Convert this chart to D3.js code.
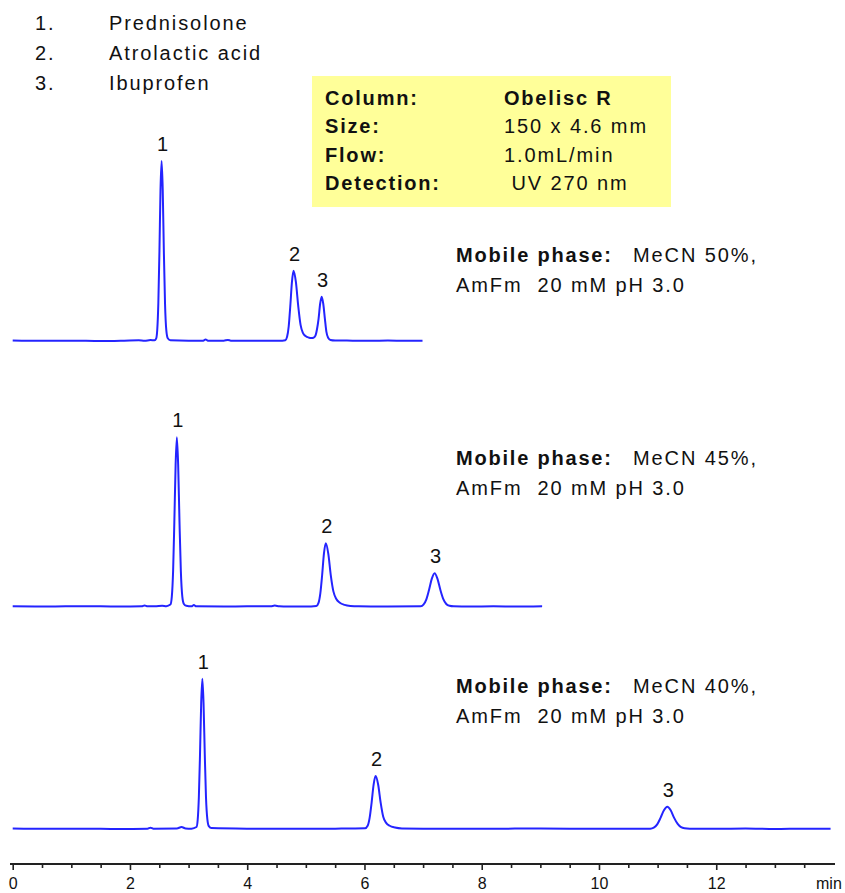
<!DOCTYPE html>
<html>
<head>
<meta charset="utf-8">
<script src="https://cdn.jsdelivr.net/npm/d3@7"></script>
<style>
  body { margin: 0; background: #fff; }
  svg { display: block; font-family: "Liberation Sans", Arial, sans-serif; }
</style>
</head>
<body>
<div id="chart"></div>
<script>
// HPLC chromatograms, Obelisc R column, three MeCN levels
// signal in relative units (baseline = 0), time in minutes

const compounds = ["Prednisolone", "Atrolactic acid", "Ibuprofen"];

const conditions = [
  { label: "Column:", value: "Obelisc R" },
  { label: "Size:", value: "150 x 4.6 mm" },
  { label: "Flow:", value: "1.0mL/min" },
  { label: "Detection:", value: " UV 270 nm" }
];

const mobilePhases = ["MeCN 50%,", "MeCN 45%,", "MeCN 40%,"];
const bufferText = "AmFm  20 mM pH 3.0";

// MeCN 50%
const trace50 = [
  [0, 0.3], [0.5, 0.1], [1.0, 0.2], [1.5, 0.0], [1.9, 0.2], [2.15, 0.4], [2.25, 0.1],
  [2.35, 0.5], [2.42, 0.4], [2.446, 1.3], [2.465, 6], [2.484, 21], [2.503, 50],
  [2.521, 84], [2.54, 100], [2.559, 84], [2.578, 50], [2.598, 21], [2.62, 6],
  [2.645, 1.5], [2.69, 0.4], [3.0, 0.2], [3.25, 0.2], [3.29, 0.9], [3.33, 0.2],
  [3.6, 0.2], [3.67, 0.6], [3.72, 0.2], [4.0, 0.1], [4.3, 0.2], [4.6, 0.2],
  [4.65, 0.4], [4.68, 2.3], [4.708, 8.2], [4.735, 19.5], [4.763, 32.8], [4.79, 39],
  [4.83, 32.8], [4.87, 19.5], [4.91, 9], [4.95, 4.5], [5.0, 2.6], [5.05, 1.9],
  [5.09, 1.6], [5.13, 1.8], [5.164, 3.0], [5.19, 6.5], [5.217, 12.3], [5.244, 20.7],
  [5.27, 24.6], [5.297, 20.7], [5.325, 12.3], [5.35, 5.2], [5.38, 1.8], [5.42, 0.6],
  [5.5, 0.3], [5.8, 0.2], [6.1, 0.1], [6.4, 0.3], [6.7, 0.1], [6.99, 0.2]
];

// MeCN 45%
const trace45 = [
  [0, 0.2], [0.6, 0.1], [1.2, 0.3], [1.8, 0.1], [2.2, 0.2], [2.25, 0.7], [2.3, 0.2],
  [2.45, 0.3], [2.55, 0.5], [2.62, 0.3], [2.69, 1.2], [2.714, 5.6], [2.736, 19.8],
  [2.757, 47], [2.779, 79], [2.8, 94.1], [2.822, 79], [2.845, 47], [2.868, 19.8],
  [2.893, 5.6], [2.92, 1.5], [2.96, 0.5], [3.05, 0.2], [3.09, 0.9], [3.13, 0.2],
  [3.6, 0.1], [4.0, 0.2], [4.4, 0.2], [4.47, 0.6], [4.55, 0.2], [5.0, 0.1],
  [5.18, 0.4], [5.216, 2.1], [5.247, 7.4], [5.278, 17.6], [5.309, 29.6], [5.34, 35.2],
  [5.382, 29.6], [5.425, 17.6], [5.47, 8.5], [5.52, 4.3], [5.58, 2.2], [5.66, 1.0],
  [5.76, 0.4], [5.9, 0.2], [6.4, 0.1], [6.96, 0.2], [7.006, 1.1], [7.054, 3.9],
  [7.101, 9.3], [7.149, 15.6], [7.196, 18.6], [7.244, 15.6], [7.295, 9.3], [7.345, 4.2],
  [7.395, 1.5], [7.45, 0.5], [7.52, 0.2], [7.8, 0.1], [8.2, 0.2], [8.6, 0.1], [9.03, 0.2]
];

// MeCN 40%
const trace40 = [
  [0, 0.3], [0.6, 0.1], [1.2, 0.2], [1.8, 0.0], [2.3, 0.2], [2.35, 0.7], [2.4, 0.2],
  [2.8, 0.3], [2.88, 1.1], [2.95, 0.3], [3.05, 0.2], [3.135, 1.1], [3.155, 5.0],
  [3.175, 17.5], [3.195, 41.7], [3.215, 70.1], [3.235, 83.5], [3.255, 70.1], [3.276, 41.7],
  [3.297, 17.5], [3.32, 5.5], [3.345, 1.6], [3.39, 0.5], [4.0, 0.2], [4.8, 0.1],
  [5.5, 0.2], [6.01, 0.4], [6.054, 1.8], [6.088, 6.2], [6.122, 14.7], [6.156, 24.7],
  [6.19, 29.4], [6.233, 24.7], [6.276, 14.7], [6.32, 6.8], [6.37, 3.4], [6.43, 1.8],
  [6.52, 0.8], [6.64, 0.3], [7.0, 0.2], [8.0, 0.1], [9.0, 0.3], [10.0, 0.1], [10.5, 0.2],
  [10.875, 0.2], [10.935, 0.75], [10.993, 2.6], [11.05, 6.2], [11.108, 10.4], [11.165, 12.4],
  [11.223, 10.4], [11.282, 6.2], [11.342, 2.8], [11.4, 1.0], [11.46, 0.4], [11.55, 0.2],
  [12.0, 0.1], [12.5, 0.3], [13.0, 0.0], [13.5, 0.2], [13.95, 0.1]
];

// retention times of the labelled peaks
const peaks50 = [2.54, 4.79, 5.27];
const peaks45 = [2.8, 5.34, 7.196];
const peaks40 = [3.235, 6.19, 11.165];

const timeTicks = d3.range(0, 14, 0.5);
const timeLabels = [0, 2, 4, 6, 8, 10, 12];

const width = 845;
const height = 893;
const blue = "#2424ff";
const fs = 20;     // text size
const ls = 1.9;    // wide letter spacing like the original bitmap font
const lsBold = 1.8;

const svg = d3.select("#chart").append("svg")
  .attr("width", width)
  .attr("height", height);

const x = d3.scaleLinear().domain([0, 14]).range([12.7, 833.5]);

// legend (top left)
const legend = svg.append("g").attr("font-size", fs).attr("fill", "#111");
compounds.forEach((name, i) => {
  legend.append("text").attr("x", 35).attr("y", 29.5 + i * 30)
    .attr("letter-spacing", ls).text((i + 1) + ".");
  legend.append("text").attr("x", 109).attr("y", 29.5 + i * 30)
    .attr("letter-spacing", ls).text(name);
});

// conditions box
const box = svg.append("g").attr("font-size", fs).attr("fill", "#111");
box.append("rect")
  .attr("x", 312).attr("y", 76).attr("width", 359).attr("height", 131)
  .attr("fill", "#ffff99");
conditions.forEach((c, i) => {
  box.append("text").attr("x", 325).attr("y", 105 + i * 28.3)
    .attr("font-weight", "bold").attr("letter-spacing", lsBold).text(c.label);
  box.append("text").attr("x", 504).attr("y", 105 + i * 28.3)
    .attr("font-weight", i === 0 ? "bold" : "normal")
    .attr("letter-spacing", i === 0 ? lsBold : ls)
    .style("white-space", "pre")
    .text(c.value);
});

// one chromatogram per mobile phase
const panels = [
  { data: trace50, peaks: peaks50, base: 341, textY: 262 },
  { data: trace45, peaks: peaks45, base: 606.7, textY: 465 },
  { data: trace40, peaks: peaks40, base: 829, textY: 693 }
];

panels.forEach((p, k) => {
  const y = d3.scaleLinear().domain([0, 100]).range([p.base, p.base - 180]);

  const line = d3.line()
    .x(d => x(d[0]))
    .y(d => y(d[1]))
    .curve(d3.curveMonotoneX);

  svg.append("path")
    .datum(p.data)
    .attr("fill", "none")
    .attr("stroke", blue)
    .attr("stroke-width", 2)
    .attr("stroke-linejoin", "round")
    .attr("d", line);

  // peak numbers sit just above the apex
  p.peaks.forEach((t, i) => {
    const apex = d3.least(p.data, d => Math.abs(d[0] - t));
    svg.append("text")
      .attr("x", x(apex[0]) + 1)
      .attr("y", y(apex[1]) - 10)
      .attr("text-anchor", "middle")
      .attr("font-size", 20)
      .attr("fill", "#111")
      .text(i + 1);
  });

  const mp = svg.append("g").attr("font-size", fs).attr("fill", "#111");
  mp.append("text").attr("x", 456).attr("y", p.textY)
    .attr("font-weight", "bold").attr("letter-spacing", lsBold).text("Mobile phase:");
  mp.append("text").attr("x", 633).attr("y", p.textY)
    .attr("letter-spacing", ls).text(mobilePhases[k]);
  mp.append("text").attr("x", 456).attr("y", p.textY + 30)
    .attr("letter-spacing", ls).style("white-space", "pre").text(bufferText);
});

// time axis
const axis = d3.axisBottom(x)
  .tickValues(timeTicks)
  .tickSize(4)
  .tickSizeOuter(0)
  .tickFormat(d => timeLabels.includes(d) ? d : "");

const gx = svg.append("g")
  .attr("transform", "translate(0,864)")
  .call(axis);

gx.select(".domain").attr("stroke", "#222").attr("stroke-width", 2.2)
  .attr("d", "M10,0H835");
gx.selectAll(".tick line").attr("stroke", "#222").attr("stroke-width", 1.6)
  .attr("y2", d => timeLabels.includes(d) ? 6 : 4);
gx.selectAll(".tick text")
  .attr("y", 25).attr("dy", null)
  .attr("font-size", 16)
  .attr("font-family", "Liberation Sans, Arial, sans-serif")
  .attr("fill", "#111");

svg.append("text")
  .attr("x", 816).attr("y", 889)
  .attr("font-size", 16)
  .attr("fill", "#111")
  .text("min");
</script>
</body>
</html>
